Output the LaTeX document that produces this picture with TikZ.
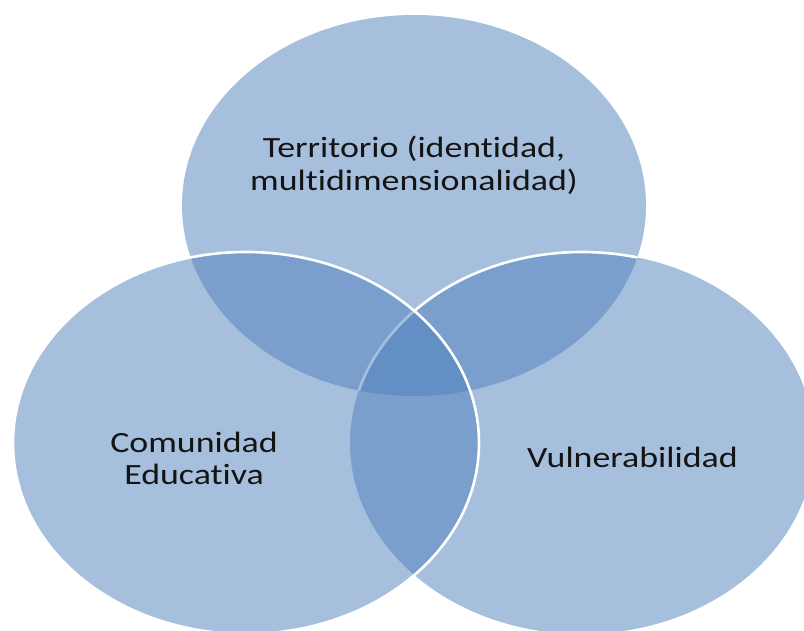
\documentclass[tikz,border=0pt]{standalone}
\usepackage{fontspec}
\setmainfont{Carlito}[Ligatures={NoCommon}]
\begin{document}
\begin{tikzpicture}[x=1pt,y=-1pt]
\definecolor{vennblue}{HTML}{4F81BD}
\tikzset{
  vennfill/.style={fill=vennblue, fill opacity=0.5},
  vennline/.style={draw=white, line width=2.6pt},
  venntext/.style={font=\fontsize{29.4}{32.5}\selectfont, align=center, text=black!92,
                   xscale=1.22, transform shape, inner sep=0pt, anchor=base}
}
\useasboundingbox (0,0) rectangle (804,631);
\fill[white] (0,0) rectangle (804,631);
% centres
\coordinate (ctop) at (414,205.5);
\coordinate (cleft) at (246,443);
\coordinate (cright) at (582,443);
% top ellipse
\path[vennfill] (ctop) ellipse [x radius=232, y radius=190.5];
% right ellipse
\path[vennfill] (cright) ellipse [x radius=232, y radius=191];
\begin{scope}
  \clip (ctop) ellipse [x radius=232, y radius=190.5];
  \path[vennline] (cright) ellipse [x radius=232, y radius=191];
\end{scope}
% left ellipse
\path[vennfill] (cleft) ellipse [x radius=233, y radius=191];
\path[vennline] (cleft) ellipse [x radius=233, y radius=191];
% labels (anchor = baseline of last line)
\node[venntext] (terr) at (414,190.5) {Territorio (identidad,\\multidimensionalidad)};
\node[venntext] (com) at (194,484.5) {Comunidad\\Educativa};
\node[venntext] (vul) at (632.5,467) {Vulnerabilidad};
\end{tikzpicture}
\end{document}
